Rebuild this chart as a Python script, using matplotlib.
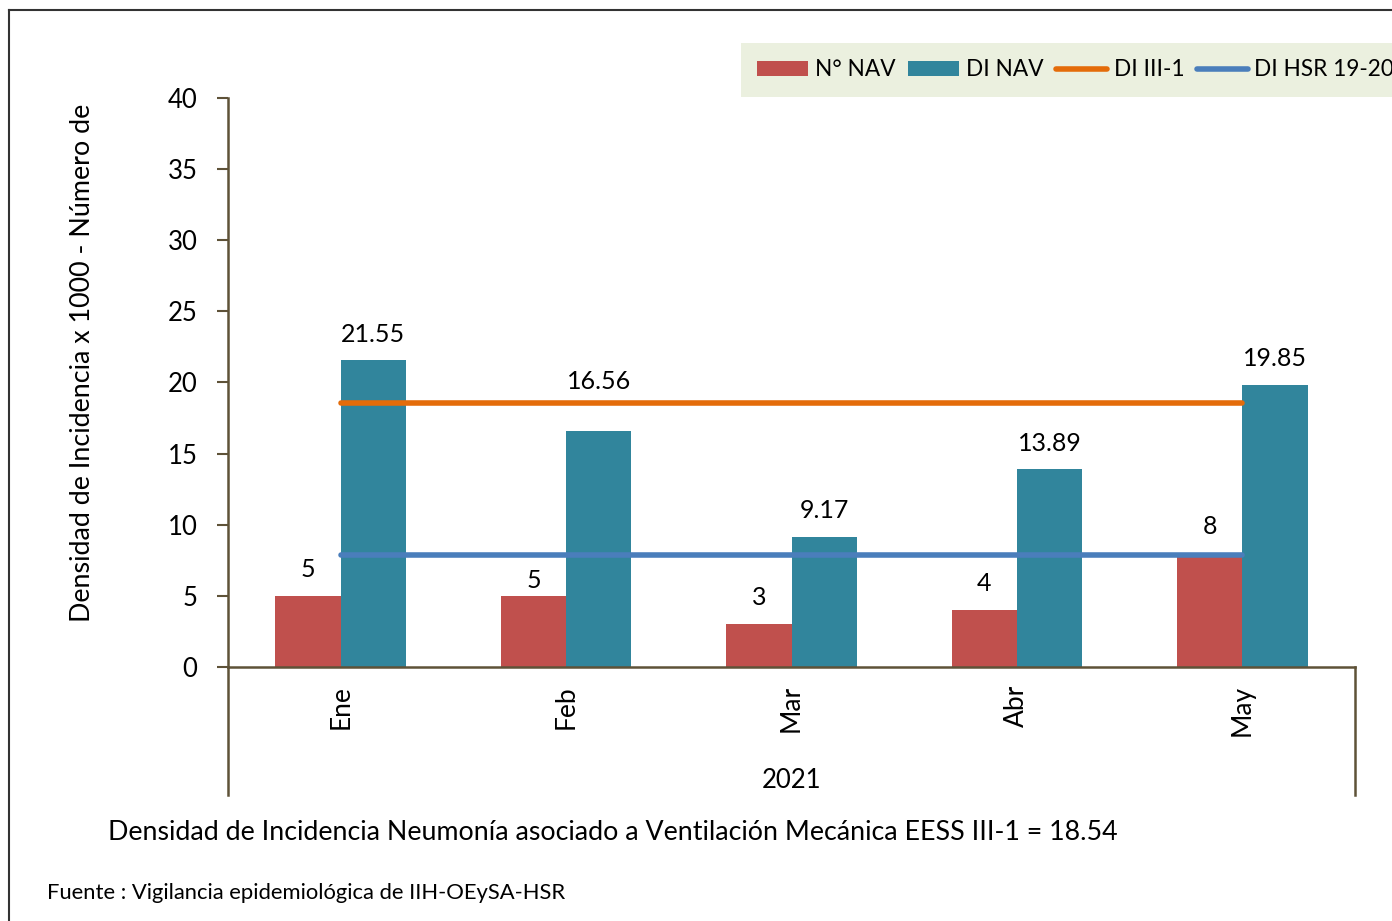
import matplotlib
matplotlib.use("Agg")
import matplotlib.pyplot as plt
from matplotlib.lines import Line2D
import numpy as np

months = ["Ene", "Feb", "Mar", "Abr", "May"]
year_label = "2021"
n_nav = [5, 5, 3, 4, 8]
di_nav = [21.55, 16.56, 9.17, 13.89, 19.85]
di_iii1 = [18.54] * 5
di_hsr = [7.89] * 5
nav_label_offsets = [19, 11, 19, 19, 19]      # points above bar top
di_label_offsets = [19, 36, 19, 19, 19]
y_ticks = [0, 5, 10, 15, 20, 25, 30, 35, 40]

C_RED = "#C0504D"
C_TEAL = "#31859C"
C_ORANGE = "#E46C0A"
C_BLUE = "#4A7EBB"
C_AXIS = "#5E5238"

plt.rcParams['font.family'] = ['Lato', 'DejaVu Sans']

W, H = 1392, 921
fig = plt.figure(figsize=(W / 100, H / 100), dpi=100)

def fx(px):
    return px / W

def fy(py):
    return 1 - py / H

ax = fig.add_axes([fx(228), fy(667), fx(1355) - fx(228), fy(98) - fy(667)])
x = np.arange(len(months))
bw = 0.29
h1 = ax.bar(x - bw / 2, n_nav, width=bw, color=C_RED, label="N° NAV", zorder=2)
h2 = ax.bar(x + bw / 2, di_nav, width=bw, color=C_TEAL, label="DI NAV", zorder=2)
h3, = ax.plot(x, di_iii1, color=C_ORANGE, lw=4, solid_capstyle='round', label="DI III-1", zorder=3)
h4, = ax.plot(x, di_hsr, color=C_BLUE, lw=4, solid_capstyle='round', label="DI HSR 19-20", zorder=3)

for i in range(len(months)):
    ax.annotate(f"{n_nav[i]:g}", (x[i] - bw / 2, n_nav[i]), xytext=(0, nav_label_offsets[i]),
                textcoords='offset points', ha='center', va='center', fontsize=18, color='black')
    ax.annotate(f"{di_nav[i]:.2f}", (x[i] + bw / 2, di_nav[i]), xytext=(0, di_label_offsets[i]),
                textcoords='offset points', ha='center', va='center', fontsize=18, color='black')

ax.set_xlim(-0.5, len(months) - 0.5)
ax.set_ylim(0, 40)
ax.set_yticks(y_ticks)
ax.set_yticklabels([str(v) for v in y_ticks], fontsize=18.5)
ax.tick_params(axis='y', direction='out', length=8, width=1.5, color=C_AXIS, pad=14)
ax.set_xticks([])
for s in ['top', 'right']:
    ax.spines[s].set_visible(False)
for s in ['left', 'bottom']:
    ax.spines[s].set_color(C_AXIS)
    ax.spines[s].set_linewidth(1.8)

ext = (795 - 667) / (667 - 98)
ax.plot([0, 0], [0, -ext], transform=ax.transAxes, color=C_AXIS, lw=1.8, clip_on=False)
ax.plot([1, 1], [0, -ext], transform=ax.transAxes, color=C_AXIS, lw=1.8, clip_on=False)

for i, m in enumerate(months):
    ax.annotate(m, (x[i], 0), xytext=(0, -13), textcoords='offset points',
                rotation=90, ha='center', va='top', fontsize=19, annotation_clip=False)
ax.text(0.5, -(780 - 667) / (667 - 98), year_label, transform=ax.transAxes,
        ha='center', va='center', fontsize=18.5)

fig.text(fx(83), fy(363), "Densidad de Incidencia x 1000 - Número de", rotation=90,
         ha='center', va='center', fontsize=19.4)

fig.text(fx(108), fy(833), "Densidad de Incidencia Neumonía asociado a Ventilación Mecánica EESS III-1 = 18.54",
         ha='left', va='center', fontsize=19.3)
fig.text(fx(47), fy(893), "Fuente : Vigilancia epidemiológica de IIH-OEySA-HSR",
         ha='left', va='center', fontsize=15.8)

leg = fig.legend([h1, h2, h3, h4], ["N° NAV", "DI NAV", "DI III-1", "DI HSR 19-20"],
                 loc='upper left', bbox_to_anchor=(fx(741), fy(43)), ncol=4, fontsize=16.3,
                 frameon=True, fancybox=False, handlelength=2.25, handleheight=0.65,
                 handletextpad=0.3, columnspacing=0.55, borderpad=0.72, borderaxespad=0)
leg.get_frame().set_facecolor("#EBF0DF")
leg.get_frame().set_edgecolor("none")
leg.get_frame().set_alpha(1)

fig.add_artist(Line2D([fx(9), fx(9)], [0, fy(10)], color="#333333", lw=1.5))
fig.add_artist(Line2D([fx(9), 1], [fy(10), fy(10)], color="#333333", lw=1.5))

fig.savefig("out.png", dpi=100)
